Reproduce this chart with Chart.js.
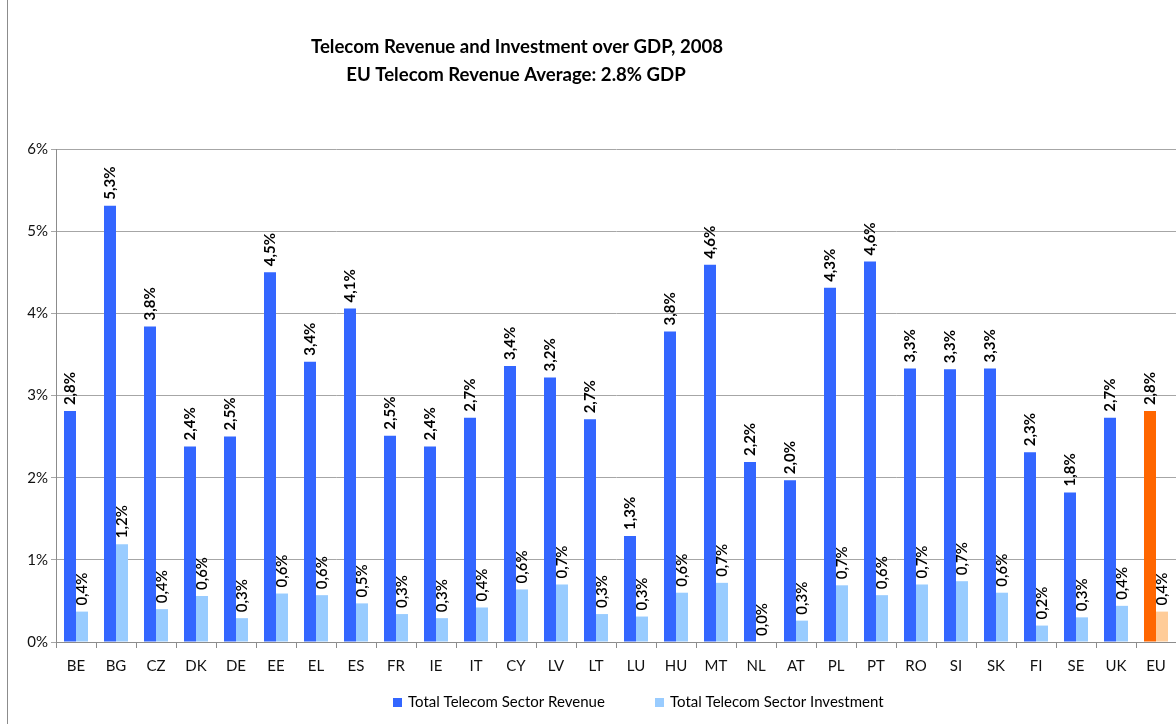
<!DOCTYPE html>
<html>
<head>
<meta charset="utf-8">
<script src="https://cdn.jsdelivr.net/npm/chart.js@4/dist/chart.umd.min.js"></script>
<style>
  html, body { margin:0; padding:0; background:#fff; }
  #wrap { width:1176px; height:724px; position:relative; }
</style>
</head>
<body>
<div id="wrap"><canvas id="c" width="1176" height="724"></canvas></div>
<script>
/* ---- data (percent of GDP) ---- */
const countries  = ['BE','BG','CZ','DK','DE','EE','EL','ES','FR','IE','IT','CY','LV','LT','LU','HU','MT','NL','AT','PL','PT','RO','SI','SK','FI','SE','UK','EU'];
const revenue    = [2.81,5.31,3.84,2.38,2.50,4.50,3.41,4.06,2.51,2.38,2.73,3.36,3.22,2.71,1.29,3.78,4.59,2.19,1.97,4.31,4.63,3.33,3.32,3.33,2.31,1.82,2.73,2.81];
const investment = [0.37,1.19,0.40,0.56,0.29,0.59,0.57,0.47,0.34,0.29,0.42,0.64,0.70,0.34,0.31,0.60,0.72,0.00,0.26,0.69,0.57,0.70,0.74,0.60,0.20,0.30,0.44,0.37];
const yTicks     = [0,1,2,3,4,5,6];
const titleLines = ['Telecom Revenue and Investment over GDP, 2008', 'EU Telecom Revenue Average: 2.8% GDP'];
const seriesNames = ['Total Telecom Sector Revenue', 'Total Telecom Sector Investment'];

const FONT = 'Lato, "Open Sans", sans-serif';
const revColors = countries.map(c => c === 'EU' ? '#FF6600' : '#3366FF');
const invColors = countries.map(c => c === 'EU' ? '#FFCC99' : '#99CCFF');

/* ---- extras: frame, title, value labels, legend ---- */
const decor = {
  id: 'decor',
  afterDatasetsDraw (chart) {
    const ctx = chart.ctx;
    ctx.save();
    // value labels, rotated
    chart.data.datasets.forEach((ds, di) => {
      const meta = chart.getDatasetMeta(di);
      ctx.font = (di === 0 ? 'bold ' : '600 ') + '15px ' + FONT;
      ctx.fillStyle = '#000';
      ctx.textAlign = 'left';
      ctx.textBaseline = 'middle';
      meta.data.forEach((bar, i) => {
        const txt = ds.data[i].toFixed(1).replace('.', ',') + '%';
        ctx.save();
        ctx.translate(bar.x, bar.y - 6);
        ctx.rotate(-Math.PI / 2);
        ctx.fillText(txt, 0, 0);
        ctx.restore();
      });
    });
    ctx.restore();
  },
  afterDraw (chart) {
    const ctx = chart.ctx;
    ctx.save();
    // left frame line
    ctx.strokeStyle = '#8c8c8c';
    ctx.lineWidth = 1;
    ctx.beginPath(); ctx.moveTo(7.5, 0); ctx.lineTo(7.5, 724); ctx.stroke();

    // title
    ctx.fillStyle = '#000';
    ctx.font = 'bold 18.6px ' + FONT;
    ctx.textAlign = 'center';
    ctx.textBaseline = 'middle';
    ctx.fillText(titleLines[0], 517, 47);
    ctx.fillText(titleLines[1], 516, 75);

    // legend
    const items = [
      { x: 393, color: '#3366FF', text: seriesNames[0] },
      { x: 655, color: '#99CCFF', text: seriesNames[1] }
    ];
    ctx.font = '15px ' + FONT;
    ctx.textAlign = 'left';
    items.forEach(it => {
      ctx.fillStyle = it.color;
      ctx.fillRect(it.x, 698, 9, 9);
      ctx.fillStyle = '#000';
      ctx.fillText(it.text, it.x + 15, 702);
    });
    ctx.restore();
  }
};

new Chart(document.getElementById('c'), {
  type: 'bar',
  data: {
    labels: countries,
    datasets: [
      { label: seriesNames[0], data: revenue,    backgroundColor: revColors, borderWidth: 0 },
      { label: seriesNames[1], data: investment, backgroundColor: invColors, borderWidth: 0 }
    ]
  },
  options: {
    responsive: false,
    animation: false,
    devicePixelRatio: 1,
    layout: { padding: { top: 149, left: 0, right: 0, bottom: 0 } },
    plugins: { legend: { display: false }, title: { display: false }, tooltip: { enabled: false } },
    datasets: { bar: { categoryPercentage: 0.6, barPercentage: 1.0 } },
    scales: {
      x: {
        afterFit (s) { s.height = 82; },
        grid: { display: true, drawOnChartArea: false, offset: true, tickLength: 6, color: '#8c8c8c' },
        border: { color: '#8c8c8c' },
        ticks: { color: '#111', font: { family: FONT, size: 15 }, padding: 9, maxRotation: 0, autoSkip: false }
      },
      y: {
        min: 0, max: 6,
        afterFit (s) { s.width = 56; },
        afterBuildTicks (s) { s.ticks = yTicks.map(v => ({ value: v })); },
        grid: { color: '#a6a6a6', tickLength: 5, lineWidth: 1 },
        border: { color: '#8c8c8c' },
        ticks: { color: '#111', font: { family: FONT, size: 15 }, padding: 3, callback: v => v + '%' }
      }
    }
  },
  plugins: [decor]
});
</script>
</body>
</html>
